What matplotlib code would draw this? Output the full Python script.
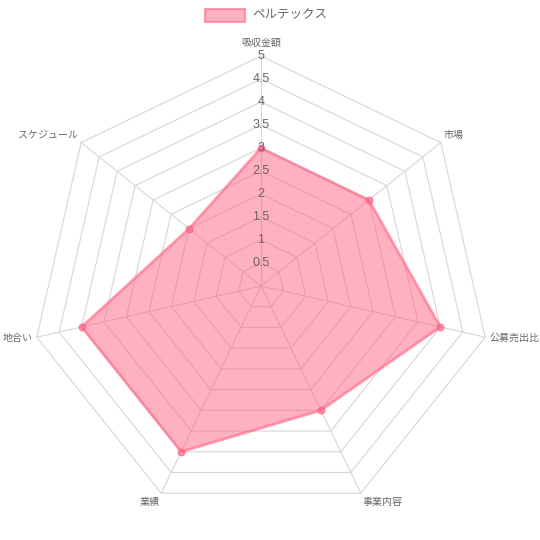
import numpy as np
import matplotlib.pyplot as plt

plt.rcParams['font.family'] = ['Noto Sans CJK JP', 'DejaVu Sans']

labels = ['吸収金額', '市場', '公募売出比', '事業内容', '業績', '地合い', 'スケジュール']
values = [3, 3, 4, 3, 4, 4, 2]
ticks = [0.5, 1, 1.5, 2, 2.5, 3, 3.5, 4, 4.5, 5]
tick_labels = ['0.5', '1', '1.5', '2', '2.5', '3', '3.5', '4', '4.5', '5']
series_name = 'ペルテックス'

vmax = 5
cx, cy = 261, 286   # center in pixels
scale = 46          # pixels per unit

fig = plt.figure(figsize=(5.4, 5.4), dpi=100)
ax = fig.add_axes([0, 0, 1, 1])
ax.set_xlim(-cx / scale, (540 - cx) / scale)
ax.set_ylim(-(540 - cy) / scale, cy / scale)
ax.axis('off')

n = len(labels)
ang = np.pi / 2 - np.arange(n) * 2 * np.pi / n
ca, sa = np.cos(ang), np.sin(ang)

pink = (1, 99 / 255, 132 / 255)
grid_col = '#d6d6d6'
for t in ticks:
    xs = np.append(t * ca, t * ca[0])
    ys = np.append(t * sa, t * sa[0])
    ax.plot(xs, ys, color=grid_col, lw=0.8, zorder=1)
for i in range(n):
    ax.plot([0, vmax * ca[i]], [0, vmax * sa[i]], color=grid_col, lw=0.8, zorder=1)

v = np.array(values, dtype=float)
px = np.append(v * ca, v[0] * ca[0])
py = np.append(v * sa, v[0] * sa[0])
ax.fill(px, py, color=pink + (0.5,), lw=0, zorder=2)
ax.plot(px, py, color=pink + (0.6,), lw=2, zorder=3)
ax.scatter(v * ca, v * sa, s=22, color=pink + (0.6,),
           edgecolors=pink + (0.8,), linewidths=1, zorder=4)

for t, tl in zip(ticks, tick_labels):
    ax.text(0, t, tl, ha='center', va='center', fontsize=9, color='#666666',
            family=['Liberation Sans', 'DejaVu Sans'], zorder=5)

# point labels outside the outer ring
for i, lab in enumerate(labels):
    pad = 8 if sa[i] > 0.9 else 4
    r_lab = vmax + pad / scale
    x, y = r_lab * ca[i], r_lab * sa[i]
    if abs(ca[i]) < 0.05:
        ha = 'center'
    elif ca[i] > 0:
        ha = 'left'
    else:
        ha = 'right'
    if sa[i] > 0.3:
        va = 'bottom'
    elif sa[i] < -0.5:
        va = 'top'
    else:
        va = 'center'
    ax.text(x, y, lab, ha=ha, va=va, fontsize=7.2, color='#666666')

# legend
bx0, by0 = (205 - cx) / scale, (cy - 22) / scale
ax.add_patch(plt.Rectangle((bx0, by0), 40 / scale, 13 / scale,
                           facecolor=pink + (0.5,), edgecolor=pink + (0.6,), lw=1.5))
ax.text((252 - cx) / scale, (cy - 15) / scale, series_name, ha='left', va='center',
        fontsize=9, color='#666666')

fig.savefig('out.png', dpi=100)
